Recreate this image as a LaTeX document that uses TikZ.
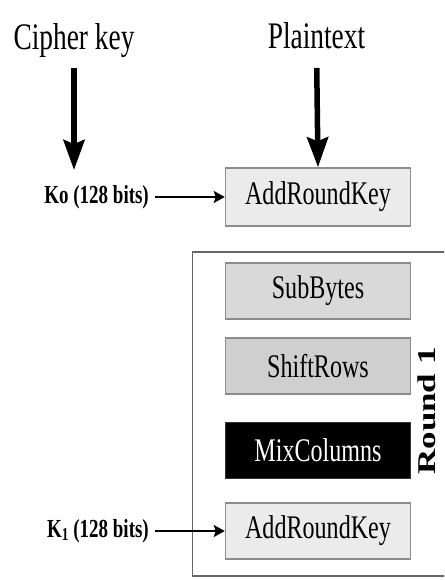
\documentclass[tikz,border=0pt]{standalone}
\usepackage{fontspec}
\setmainfont{Liberation Serif}
\newfontfamily\narrow{Liberation Serif}[FakeStretch=0.73]
\usetikzlibrary{arrows.meta}
\definecolor{keybox}{HTML}{EBEBEB}
\definecolor{subbox}{HTML}{D9D9D9}
\definecolor{shiftbox}{HTML}{CFCFCF}

\begin{document}
\begin{tikzpicture}[x=1pt,y=-1pt,
	bigarrow/.style={line width=5.5pt,-{Stealth[length=30pt,width=21pt,inset=4pt]}},
	keyarrow/.style={line width=1.8pt,shorten <=5pt,-{Stealth[length=11pt,width=12pt,inset=2pt]}},
	stage/.style={draw=black!45,line width=1.5pt,minimum width=185pt,minimum height=56pt,inner sep=0pt,
		font=\narrow\fontsize{33}{33}\selectfont},
	keylabel/.style={anchor=east,inner sep=1pt,font=\narrow\fontsize{26}{26}\selectfont\bfseries},
	title/.style={anchor=base,inner sep=0pt,font=\narrow\fontsize{37.5}{37.5}\selectfont}]
	\useasboundingbox (0,0) rectangle (444,580);
	\clip (0,0) rectangle (444,580);
	% inputs
	\node [title] (cipher) at (74,50) {Cipher key};
	\node [title] (plain) at (316.5,49) {Plaintext};
	% initial round
	\node [stage,fill=keybox,minimum height=58pt] (ark0) at (318,197) {AddRoundKey};
	\node [keylabel] (k0) at (150,197) {Ko (128 bits)};
	\coordinate (kend) at (74,170);
	\draw [bigarrow,shorten <=18pt] (cipher.base) -- (kend);
	\draw [bigarrow,shorten <=19pt] (plain.base) -- (ark0.north);
	\draw [keyarrow] (k0.east) -- (ark0.west);
	% round 1
	\draw [black!60,line width=1.8pt] (192.5,252) rectangle (470,576);
	\node [stage,fill=subbox] (sub) at (318,291) {SubBytes};
	\node [stage,fill=shiftbox] (shift) at (318,366) {ShiftRows};
	\node [stage,fill=black,text=white,draw=black!80] (mix) at (318,450.5) {MixColumns};
	\node [stage,fill=keybox] (ark1) at (318,531) {AddRoundKey};
	\node [rotate=90,inner sep=0pt] (round) at (427,411) {\scalebox{1}[0.73]{\fontsize{35}{35}\selectfont\bfseries Round 1}};
	\node [keylabel] (k1) at (150,531) {K\textsubscript{1}\,(128 bits)};
	\draw [keyarrow] (k1.east) -- (ark1.west);
\end{tikzpicture}
\end{document}
